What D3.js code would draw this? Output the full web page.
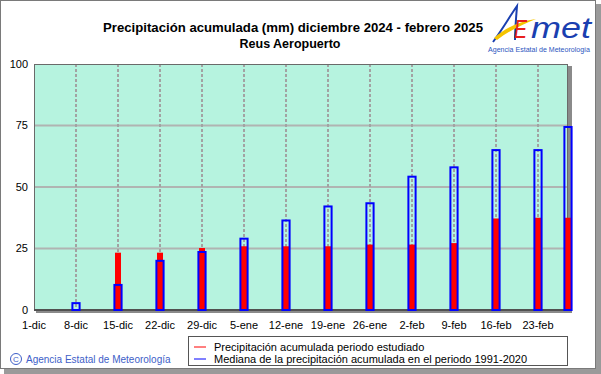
<!DOCTYPE html>
<html>
<head>
<meta charset="utf-8">
<script src="https://cdn.jsdelivr.net/npm/d3@7"></script>
<style>
  body { margin: 0; background: #fff; }
  svg { display: block; font-family: "Liberation Sans", Arial, sans-serif; }
</style>
</head>
<body>
<div id="chart"></div>
<script>
// Data (mm)
const barDates = ["2024-12-08", "2024-12-15", "2024-12-22", "2024-12-29", "2025-01-05", "2025-01-12",
    "2025-01-19", "2025-01-26", "2025-02-02", "2025-02-09", "2025-02-16", "2025-02-23", "2025-02-28"];
const observed = [0, 23.3, 23.3, 25.2, 25.9, 25.9, 25.9, 26.6, 26.6, 27.2, 37.2, 37.5, 37.5];
const median = [3.2, 10.6, 20.4, 24.0, 29.4, 36.8, 42.5, 43.8, 54.6, 58.4, 65.4, 65.4, 74.8];

const tickDates = ["2024-12-01", "2024-12-08", "2024-12-15", "2024-12-22", "2024-12-29", "2025-01-05",
    "2025-01-12", "2025-01-19", "2025-01-26", "2025-02-02", "2025-02-09", "2025-02-16", "2025-02-23"];
const tickLabels = ["1-dic", "8-dic", "15-dic", "22-dic", "29-dic", "5-ene", "12-ene", "19-ene",
    "26-ene", "2-feb", "9-feb", "16-feb", "23-feb"];
const yTicks = [0, 25, 50, 75, 100];

const legendLabels = ["Precipitación acumulada periodo estudiado",
    "Mediana de la precipitación acumulada en el periodo 1991-2020"];

const W = 601, H = 374;
const plot = { left: 34, right: 568, top: 64, bottom: 310 };

const svg = d3.select("#chart").append("svg")
    .attr("width", W)
    .attr("height", H);

// outer frame with shadow
svg.append("rect").attr("x", 4).attr("y", 4).attr("width", 597).attr("height", 370).attr("fill", "#9a9a9a");
svg.append("rect").attr("x", 0.5).attr("y", 0.5).attr("width", 595).attr("height", 368)
    .attr("fill", "#fff").attr("stroke", "#7a7a7a");

const x = d3.scaleUtc()
    .domain([new Date("2024-12-01"), new Date("2025-02-28")])
    .range([plot.left, plot.right]);

const y = d3.scaleLinear()
    .domain([0, 100])
    .range([plot.bottom, plot.top]);

// plot background + shadow
svg.append("rect")
    .attr("x", plot.left + 2).attr("y", plot.top + 2)
    .attr("width", plot.right - plot.left + 2).attr("height", plot.bottom - plot.top + 1)
    .attr("fill", "#8a8a8a");
svg.append("rect")
    .attr("x", plot.left).attr("y", plot.top)
    .attr("width", plot.right - plot.left).attr("height", plot.bottom - plot.top)
    .attr("fill", "#b6f3df");

// horizontal grid
svg.append("g")
    .selectAll("line")
    .data(yTicks.filter(d => d > 0 && d < 100))
    .join("line")
    .attr("x1", plot.left).attr("x2", plot.right)
    .attr("y1", d => y(d)).attr("y2", d => y(d))
    .attr("stroke", "#b0b4b2")
    .attr("stroke-width", 2);

// vertical dashed grid
svg.append("g")
    .selectAll("line")
    .data(tickDates.slice(1))
    .join("line")
    .attr("x1", d => x(new Date(d))).attr("x2", d => x(new Date(d)))
    .attr("y1", plot.top).attr("y2", plot.bottom)
    .attr("stroke", "#a2a2a2")
    .attr("stroke-width", 2)
    .attr("stroke-dasharray", "3,2");

// plot border
svg.append("rect")
    .attr("x", plot.left + 0.5).attr("y", plot.top + 0.5)
    .attr("width", plot.right - plot.left - 1).attr("height", plot.bottom - plot.top - 1)
    .attr("fill", "none")
    .attr("stroke", "#6a6a6a");
svg.append("line")
    .attr("x1", plot.left).attr("x2", plot.right)
    .attr("y1", plot.bottom).attr("y2", plot.bottom)
    .attr("stroke", "#505050").attr("stroke-width", 2);

// bars
const bars = barDates.map((d, i) => ({ date: new Date(d), obs: observed[i], med: median[i] }));

svg.append("g")
    .selectAll("rect")
    .data(bars.filter(d => d.obs > 0))
    .join("rect")
    .attr("x", d => x(d.date) - 3)
    .attr("width", 6)
    .attr("y", d => y(d.obs))
    .attr("height", d => y(0) - y(d.obs))
    .attr("fill", "#ff0000");

svg.append("g")
    .selectAll("rect")
    .data(bars)
    .join("rect")
    .attr("x", d => x(d.date) - 3.6)
    .attr("width", 7.2)
    .attr("y", d => y(d.med) + 1)
    .attr("height", d => y(0) - y(d.med) - 1)
    .attr("fill", "none")
    .attr("stroke", "#0000ff")
    .attr("stroke-width", 2);

// y axis labels
svg.append("g")
    .selectAll("text")
    .data(yTicks)
    .join("text")
    .attr("x", 28)
    .attr("y", d => y(d))
    .attr("dy", "0.35em")
    .attr("text-anchor", "end")
    .attr("font-size", 11)
    .text(d => d);

// x axis labels
svg.append("g")
    .selectAll("text")
    .data(tickDates)
    .join("text")
    .attr("x", d => x(new Date(d)))
    .attr("y", 329)
    .attr("text-anchor", "middle")
    .attr("font-size", 11)
    .text((d, i) => tickLabels[i]);

// title
svg.append("text")
    .attr("x", 293).attr("y", 32)
    .attr("text-anchor", "middle")
    .attr("font-size", 12.5).attr("font-weight", "bold")
    .attr("textLength", 380).attr("lengthAdjust", "spacingAndGlyphs")
    .text("Precipitación acumulada (mm) diciembre 2024 - febrero 2025");
svg.append("text")
    .attr("x", 290).attr("y", 48)
    .attr("text-anchor", "middle")
    .attr("font-size", 12.5).attr("font-weight", "bold")
    .text("Reus Aeropuerto");

// legend
const legend = svg.append("g");
legend.append("rect")
    .attr("x", 188.5).attr("y", 336.5).attr("width", 379).attr("height", 29)
    .attr("fill", "#fff").attr("stroke", "#555");
legend.selectAll("line")
    .data(["#ff0000", "#0000ff"])
    .join("line")
    .attr("x1", 194).attr("x2", 206)
    .attr("y1", (d, i) => 347 + i * 12).attr("y2", (d, i) => 347 + i * 12)
    .attr("stroke", d => d);
legend.selectAll("text")
    .data(legendLabels)
    .join("text")
    .attr("x", 214)
    .attr("y", (d, i) => 351 + i * 12)
    .attr("font-size", 11)
    .text(d => d);

// copyright
svg.append("circle").attr("cx", 16).attr("cy", 359).attr("r", 5.5)
    .attr("fill", "none").attr("stroke", "#3d5ec8");
svg.append("text").attr("x", 16).attr("y", 362).attr("text-anchor", "middle")
    .attr("font-size", 8).attr("fill", "#3d5ec8").text("C");
svg.append("text").attr("x", 26).attr("y", 363)
    .attr("font-size", 10).attr("fill", "#3d5ec8")
    .text("Agencia Estatal de Meteorología");

// AEMET logo
const logo = svg.append("g");
logo.append("path")
    .attr("d", "M493,42 C502,30 510,16 517,6 C516,18 515,30 515,40")
    .attr("fill", "none").attr("stroke", "#1a3fb0").attr("stroke-width", 2);
logo.append("path")
    .attr("d", "M494,38 C506,27 521,21 536,19 C524,24 510,30 497,40 Z")
    .attr("fill", "#f5c400");
logo.append("text").attr("x", 514).attr("y", 38)
    .attr("font-size", 26).attr("font-style", "italic").attr("fill", "#e8201c")
    .attr("textLength", 13).attr("lengthAdjust", "spacingAndGlyphs")
    .text("E");
logo.append("text").attr("x", 531).attr("y", 38)
    .attr("font-size", 30).attr("font-style", "italic").attr("fill", "#1a3fb0")
    .attr("textLength", 60).attr("lengthAdjust", "spacingAndGlyphs")
    .text("met");
logo.append("text").attr("x", 539).attr("y", 52)
    .attr("text-anchor", "middle")
    .attr("font-size", 7).attr("fill", "#2c55c0")
    .attr("textLength", 102).attr("lengthAdjust", "spacingAndGlyphs")
    .text("Agencia Estatal de Meteorología");
</script>
</body>
</html>
